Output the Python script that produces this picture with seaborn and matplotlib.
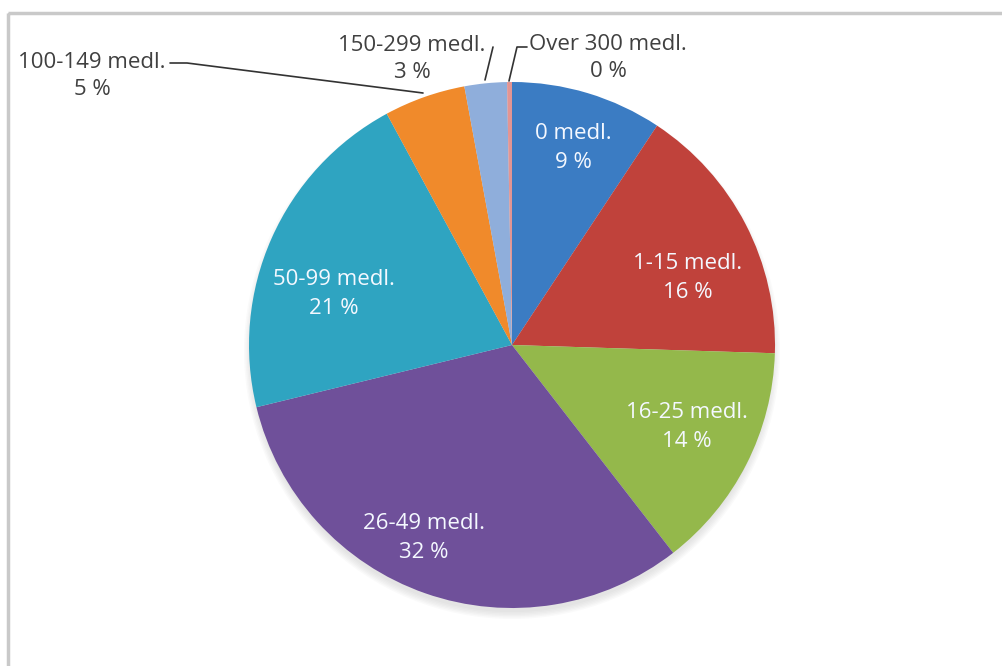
import matplotlib.pyplot as plt
import numpy as np
import seaborn as sns
from matplotlib.patches import Circle, Rectangle

sns.set_theme(style="white")
plt.rcParams["font.family"] = ["Open Sans", "DejaVu Sans"]

# Data (shares of respondents)
categories = [
    "0 medl.",
    "1-15 medl.",
    "16-25 medl.",
    "26-49 medl.",
    "50-99 medl.",
    "100-149 medl.",
    "150-299 medl.",
    "Over 300 medl.",
]
shares = [9.3, 16.2, 14.0, 31.7, 20.9, 5.0, 2.6, 0.3]

colors = ["#3B7CC3", "#C0423B", "#94B84B", "#6F509A", "#2FA4C1", "#F08A2B", "#8FAEDB", "#E39593"]

# label placement (pixel coords of the 1002x666 canvas)
label_pos = [(573, 148), (688, 278), (687, 427), (424, 538), (334, 294), (92, 76), (412, 59), (608, 58)]
inside = [True, True, True, True, True, False, False, False]

W, H = 1002, 666
cx, cy, r = 512, 345, 263

fig = plt.figure(figsize=(W / 100, H / 100), dpi=100)
ax = fig.add_axes([0, 0, 1, 1])

# outer frame (only left and top visible)
ax.add_patch(Rectangle((8, 13), W + 20, H + 20, fill=False, edgecolor="#C9C9C9", lw=2.5))

# soft shadow under the pie (shifted down)
for k in range(6):
    ax.add_patch(Circle((cx, cy + 6), r - 2 + k * 1.4, color="#8A8A8A", alpha=0.04, lw=0))

# y axis is flipped, so start at -90 and go "counterclock" = clockwise on screen from the top
wedges, _ = ax.pie(
    shares,
    colors=colors,
    startangle=-90,
    counterclock=True,
    center=(cx, cy),
    radius=r,
    frame=True,
    wedgeprops=dict(edgecolor="none", linewidth=0),
)
ax.set_xlim(0, W)
ax.set_ylim(H, 0)
ax.set_aspect("equal")
ax.axis("off")

pcts = [f"{round(s):.0f} %" for s in shares]
for name, pct, (x, y), inn in zip(categories, pcts, label_pos, inside):
    ax.text(
        x, y, f"{name}\n{pct}",
        ha="center", va="center",
        fontsize=16, linespacing=1.45 if inn else 1.35,
        color="#F4F8FF" if inn else "#404040",
    )

# leader lines for the small slices
ax.plot([170, 187, 423], [63, 63, 93], color="#333333", lw=1.2)
ax.plot([493, 485], [47, 80], color="#333333", lw=1.2)
ax.plot([527, 517, 509], [47, 47, 81], color="#333333", lw=1.2)

fig.savefig("out.png", dpi=100, facecolor="white")
